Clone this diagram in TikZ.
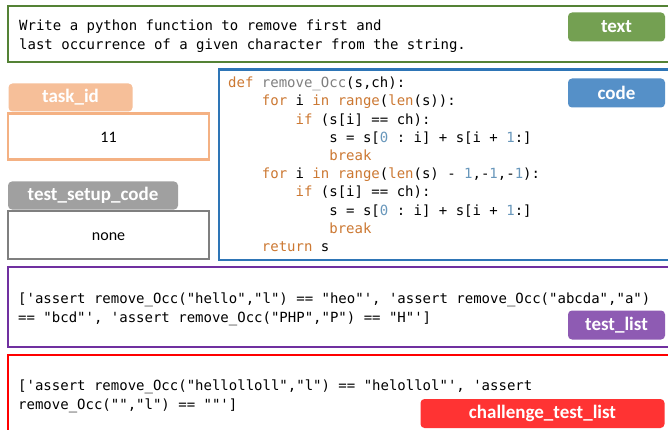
\documentclass[tikz,border=0pt]{standalone}
\usepackage{fontspec}
\setmainfont{Carlito}
\setmonofont{DejaVu Sans Mono}
\definecolor{txtgreen}{HTML}{548235}
\definecolor{txttag}{HTML}{74A052}
\definecolor{codeblue}{HTML}{2E75B6}
\definecolor{codetag}{HTML}{5590C8}
\definecolor{idorange}{HTML}{F4B183}
\definecolor{idtag}{HTML}{F6BF99}
\definecolor{setupgrey}{HTML}{7F7F7F}
\definecolor{setuptag}{HTML}{A0A0A0}
\definecolor{listpurple}{HTML}{7030A0}
\definecolor{listtag}{HTML}{8E5BB3}
\definecolor{chalred}{HTML}{FF0000}
\definecolor{chaltag}{HTML}{FF3333}
\definecolor{kwcol}{HTML}{CC7832}
\definecolor{fncol}{HTML}{7F7F7F}
\definecolor{numcol}{HTML}{6897BB}
\newcommand{\kw}[1]{\textcolor{kwcol}{#1}}
\newcommand{\fn}[1]{\textcolor{fncol}{#1}}
\newcommand{\nm}[1]{\textcolor{numcol}{#1}}
\newcommand{\tab}{\phantom{xxxx}}
\tikzset{
  field/.style={draw=#1, line width=2.2pt, anchor=north west, inner sep=0pt},
  tag/.style={fill=#1, rounded corners=4pt, text=white, inner sep=0pt,
    font=\fontsize{19}{22}\selectfont\bfseries},
  value/.style={font=\fontsize{16}{19}\selectfont},
  plain/.style={anchor=north west, inner sep=0pt, align=left,
    font=\ttfamily\fontsize{14}{19}\selectfont},
  listing/.style={plain, font=\ttfamily\fontsize{14}{18.2}\selectfont}
}
\begin{document}
\begin{tikzpicture}[x=1pt, y=-1pt]
  \clip (0,0) rectangle (668,430);
  \fill[white] (0,0) rectangle (668,430);
  % text
  \node[field=txtgreen, minimum width=700pt, minimum height=56pt] (textbox) at (7,5) {};
  \node[plain] (textbody) at (19,16.8)
    {\strut Write a python function to remove first and\\
     last occurrence of a given character from the string.};
  \node[tag=txttag, minimum width=97pt, minimum height=29pt] (texttag) at (616.5,27) {text};
  % code
  \node[field=codeblue, minimum width=480pt, minimum height=190pt] (codebox) at (218,68.5) {};
  \node[listing] (codebody) at (228,74.8)
    {\strut\kw{def} \fn{remove\_Occ}(s,ch):\\
     \tab\kw{for} i \kw{in} \kw{range}(\kw{len}(s)):\\
     \tab\tab\kw{if} (s[i] == ch):\\
     \tab\tab\tab s = s[\nm{0} : i] + s[i + \nm{1}:]\\
     \tab\tab\tab\kw{break}\\
     \tab\kw{for} i \kw{in} \kw{range}(\kw{len}(s) - \nm{1},-\nm{1},-\nm{1}):\\
     \tab\tab\kw{if} (s[i] == ch):\\
     \tab\tab\tab s = s[\nm{0} : i] + s[i + \nm{1}:]\\
     \tab\tab\tab\kw{break}\\
     \tab\kw{return} s};
  \node[tag=codetag, minimum width=97pt, minimum height=29pt] (codetag) at (616.5,93) {code};
  % task_id
  \node[tag=idtag, minimum width=124pt, minimum height=28pt] (idtag) at (70.5,97.5) {task\_id};
  \node[field=idorange, minimum width=201pt, minimum height=46pt] (idbox) at (7,112.5) {};
  \node[value] (idvalue) at ([yshift=-1pt]idbox.center) {11};
  % test_setup_code
  \node[tag=setuptag, minimum width=170pt, minimum height=28pt] (setuptag) at (93,195.5) {test\_setup\_code};
  \node[field=setupgrey, minimum width=201pt, minimum height=48pt] (setupbox) at (7,210) {};
  \node[value] (setupvalue) at ([yshift=-1.5pt]setupbox.center) {none};
  % test_list
  \node[field=listpurple, minimum width=700pt, minimum height=80pt] (listbox) at (7,265.5) {};
  \node[plain] (listbody) at (18,290.4)
    {\strut['assert remove\_Occ("hello","l") == "heo"', 'assert remove\_Occ("abcda","a")\\
     == "bcd"', 'assert remove\_Occ("PHP","P") == "H"']};
  \node[tag=listtag, minimum width=97pt, minimum height=29pt] (listtag) at (616.5,325) {test\_list};
  % challenge_test_list
  \node[field=chalred, minimum width=700pt, minimum height=120pt] (chalbox) at (7,353.5) {};
  \node[plain] (chalbody) at (18,377.4)
    {\strut['assert remove\_Occ("hellolloll","l") == "helollol"', 'assert\\
     remove\_Occ("","l") == ""']};
  \node[tag=chaltag, minimum width=244pt, minimum height=29pt] (chaltag) at (542.5,413.5) {challenge\_test\_list};
\end{tikzpicture}
\end{document}
